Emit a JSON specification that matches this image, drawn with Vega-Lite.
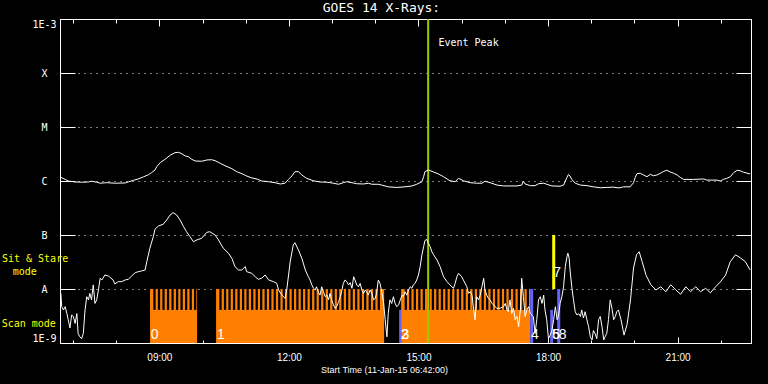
{
"$schema":"https://vega.github.io/schema/vega-lite/v6.json",
"width":691,"height":324,"autosize":"none",
"padding":{"left":60,"top":19,"right":17,"bottom":41},
"background":"black",
"title":{"text":"GOES 14 X-Rays:","color":"white","font":"DejaVu Sans Mono","fontSize":13,"fontWeight":"normal","anchor":"middle","dx":-24,"offset":3},
"config":{"view":{"stroke":null},
"axis":{"domainColor":"white","tickColor":"white","labelColor":"white","titleColor":"white","labelFont":"DejaVu Sans Mono","titleFont":"Liberation Sans","labelFontSize":10,"titleFontSize":9,"titleFontWeight":"normal","grid":false,"zindex":1,"domainWidth":1,"tickWidth":1}},
"resolve":{"axis":{"x":"independent","y":"independent"}},
"datasets":{
"seg":[{"h0":8.785,"h1":9.874},{"h0":10.314,"h1":14.205},{"h0":14.599,"h1":17.588}],
"gaps":[{"h0":8.861},{"h0":8.966},{"h0":9.070},{"h0":9.175},{"h0":9.280},{"h0":9.385},{"h0":9.489},{"h0":9.594},{"h0":9.699},{"h0":9.803},
{"h0":10.390},{"h0":10.495},{"h0":10.599},{"h0":10.704},{"h0":10.809},{"h0":10.914},{"h0":11.018},{"h0":11.123},{"h0":11.228},{"h0":11.332},{"h0":11.437},{"h0":11.542},{"h0":11.646},{"h0":11.751},{"h0":11.856},{"h0":11.961},{"h0":12.065},{"h0":12.170},{"h0":12.275},{"h0":12.379},{"h0":12.484},{"h0":12.589},{"h0":12.693},{"h0":12.798},{"h0":12.903},{"h0":13.008},{"h0":13.112},{"h0":13.217},{"h0":13.322},{"h0":13.426},{"h0":13.531},{"h0":13.636},{"h0":13.740},{"h0":13.845},{"h0":13.950},{"h0":14.055},
{"h0":14.680},{"h0":14.785},{"h0":14.889},{"h0":14.994},{"h0":15.099},{"h0":15.204},{"h0":15.308},{"h0":15.413},{"h0":15.518},{"h0":15.622},{"h0":15.727},{"h0":15.832},{"h0":15.936},{"h0":16.041},{"h0":16.146},{"h0":16.251},{"h0":16.355},{"h0":16.460},{"h0":16.565},{"h0":16.669},{"h0":16.774},{"h0":16.879},{"h0":16.983},{"h0":17.088},{"h0":17.193},{"h0":17.298},{"h0":17.402},{"h0":17.507}],
"modes":[{"h0":14.553,"h1":14.599,"lo":1e-9,"hi":4.1e-9,"mode":"other"},{"h0":17.588,"h1":17.657,"lo":1e-9,"hi":1e-8,"mode":"other"},{"h0":18.051,"h1":18.115,"lo":1e-9,"hi":4.1e-9,"mode":"other"},{"h0":18.213,"h1":18.283,"lo":1e-9,"hi":1e-8,"mode":"other"},{"h0":18.097,"h1":18.167,"lo":1e-8,"hi":1e-7,"mode":"stare"}],
"nums":[{"h":8.80,"f":1.19e-9,"t":"0"},{"h":10.337,"f":1.19e-9,"t":"1"},{"h":14.592,"f":1.19e-9,"t":"2"},{"h":14.61,"f":1.19e-9,"t":"3"},{"h":17.604,"f":1.19e-9,"t":"4"},{"h":18.09,"f":1.19e-9,"t":"5"},{"h":18.10,"f":1.19e-9,"t":"6"},{"h":18.12,"f":1.67e-8,"t":"7"},{"h":18.25,"f":1.19e-9,"t":"8"}],
"side":[{"h":5.356,"f":3.59e-8,"t":"Sit & Stare"},{"h":5.604,"f":2.09e-8,"t":"mode"},{"h":5.349,"f":2.25e-9,"t":"Scan mode"}],
"peak":[{"h":15.225,"f":3.55e-4,"t":"Event Peak","ht":15.463}],
"long":[{"h":6.72,"f":1.17e-6},{"h":6.82,"f":1.07e-6},{"h":6.89,"f":1.0e-6},{"h":7.05,"f":9.6e-7},{"h":7.20,"f":9.5e-7},{"h":7.36,"f":9.6e-7},{"h":7.43,"f":9.9e-7},{"h":7.55,"f":9.5e-7},{"h":7.63,"f":9.1e-7},{"h":7.78,"f":9.3e-7},{"h":7.97,"f":9.1e-7},{"h":8.21,"f":9.2e-7},{"h":8.28,"f":9.6e-7},{"h":8.40,"f":1.03e-6},{"h":8.51,"f":1.09e-6},{"h":8.63,"f":1.19e-6},{"h":8.75,"f":1.31e-6},{"h":8.82,"f":1.43e-6},{"h":8.90,"f":1.60e-6},{"h":8.94,"f":1.84e-6},{"h":9.02,"f":2.18e-6},{"h":9.13,"f":2.52e-6},{"h":9.25,"f":2.99e-6},{"h":9.36,"f":3.34e-6},{"h":9.44,"f":3.40e-6},{"h":9.50,"f":3.26e-6},{"h":9.60,"f":2.91e-6},{"h":9.67,"f":2.82e-6},{"h":9.75,"f":2.52e-6},{"h":9.83,"f":2.35e-6},{"h":9.98,"f":2.32e-6},{"h":10.10,"f":2.45e-6},{"h":10.21,"f":2.48e-6},{"h":10.29,"f":2.38e-6},{"h":10.41,"f":2.13e-6},{"h":10.52,"f":1.92e-6},{"h":10.68,"f":1.69e-6},{"h":10.79,"f":1.49e-6},{"h":10.91,"f":1.37e-6},{"h":11.02,"f":1.24e-6},{"h":11.14,"f":1.14e-6},{"h":11.26,"f":1.09e-6},{"h":11.37,"f":1.0e-6},{"h":11.53,"f":9.7e-7},{"h":11.68,"f":9.3e-7},{"h":11.80,"f":8.8e-7},{"h":11.91,"f":9.1e-7},{"h":11.99,"f":1.07e-6},{"h":12.07,"f":1.24e-6},{"h":12.14,"f":1.49e-6},{"h":12.22,"f":1.49e-6},{"h":12.30,"f":1.29e-6},{"h":12.41,"f":1.12e-6},{"h":12.57,"f":1.01e-6},{"h":12.72,"f":9.6e-7},{"h":12.88,"f":9.5e-7},{"h":13.03,"f":9.1e-7},{"h":13.15,"f":8.7e-7},{"h":13.26,"f":9.3e-7},{"h":13.34,"f":9.7e-7},{"h":13.46,"f":9.3e-7},{"h":13.57,"f":8.9e-7},{"h":13.73,"f":8.8e-7},{"h":13.84,"f":9.1e-7},{"h":13.92,"f":8.7e-7},{"h":14.07,"f":8.7e-7},{"h":14.15,"f":8.4e-7},{"h":14.30,"f":7.8e-7},{"h":14.50,"f":7.6e-7},{"h":14.69,"f":7.8e-7},{"h":14.85,"f":8.1e-7},{"h":14.96,"f":8.7e-7},{"h":15.08,"f":9.7e-7},{"h":15.12,"f":1.2e-6},{"h":15.15,"f":1.49e-6},{"h":15.23,"f":1.6e-6},{"h":15.35,"f":1.47e-6},{"h":15.46,"f":1.35e-6},{"h":15.58,"f":1.2e-6},{"h":15.73,"f":1.01e-6},{"h":15.85,"f":9.7e-7},{"h":15.93,"f":1.12e-6},{"h":16.04,"f":1.01e-6},{"h":16.20,"f":9.3e-7},{"h":16.35,"f":9.1e-7},{"h":16.47,"f":9.1e-7},{"h":16.54,"f":9.9e-7},{"h":16.66,"f":9.3e-7},{"h":16.82,"f":8.4e-7},{"h":16.97,"f":8.1e-7},{"h":17.12,"f":8.1e-7},{"h":17.28,"f":8.1e-7},{"h":17.39,"f":8.4e-7},{"h":17.43,"f":9.9e-7},{"h":17.47,"f":8.8e-7},{"h":17.59,"f":8.2e-7},{"h":17.70,"f":8.2e-7},{"h":17.78,"f":8.9e-7},{"h":17.90,"f":9.1e-7},{"h":17.97,"f":8.7e-7},{"h":18.09,"f":8.1e-7},{"h":18.28,"f":8.0e-7},{"h":18.36,"f":8.4e-7},{"h":18.44,"f":1.17e-6},{"h":18.47,"f":1.31e-6},{"h":18.51,"f":1.24e-6},{"h":18.55,"f":1.07e-6},{"h":18.63,"f":9.1e-7},{"h":18.75,"f":8.4e-7},{"h":18.90,"f":8.2e-7},{"h":19.05,"f":7.8e-7},{"h":19.21,"f":7.5e-7},{"h":19.36,"f":7.6e-7},{"h":19.52,"f":7.7e-7},{"h":19.60,"f":7.5e-7},{"h":19.67,"f":7.5e-7},{"h":19.75,"f":7.8e-7},{"h":19.90,"f":7.8e-7},{"h":19.98,"f":9.3e-7},{"h":20.02,"f":1.17e-6},{"h":20.06,"f":1.37e-6},{"h":20.14,"f":1.39e-6},{"h":20.21,"f":1.29e-6},{"h":20.29,"f":1.2e-6},{"h":20.37,"f":1.33e-6},{"h":20.44,"f":1.25e-6},{"h":20.52,"f":1.29e-6},{"h":20.60,"f":1.39e-6},{"h":20.68,"f":1.51e-6},{"h":20.75,"f":1.58e-6},{"h":20.83,"f":1.47e-6},{"h":20.91,"f":1.39e-6},{"h":20.99,"f":1.29e-6},{"h":21.06,"f":1.17e-6},{"h":21.14,"f":1.07e-6},{"h":21.37,"f":1.07e-6},{"h":21.60,"f":1.09e-6},{"h":21.68,"f":1.04e-6},{"h":21.91,"f":1.04e-6},{"h":21.99,"f":1.0e-6},{"h":22.06,"f":1.07e-6},{"h":22.14,"f":1.12e-6},{"h":22.22,"f":1.2e-6},{"h":22.30,"f":1.43e-6},{"h":22.38,"f":1.58e-6},{"h":22.45,"f":1.55e-6},{"h":22.53,"f":1.45e-6},{"h":22.68,"f":1.35e-6}],
"short":[{"h":6.72,"f":8.3e-9},{"h":6.74,"f":4.7e-9},{"h":6.78,"f":4.1e-9},{"h":6.82,"f":4.7e-9},{"h":6.86,"f":3.5e-9},{"h":6.89,"f":2.7e-9},{"h":6.93,"f":1.9e-9},{"h":6.97,"f":3.3e-9},{"h":7.01,"f":3.1e-9},{"h":7.05,"f":2.3e-9},{"h":7.09,"f":3.5e-9},{"h":7.12,"f":1.5e-9},{"h":7.16,"f":1.3e-9},{"h":7.20,"f":1.2e-9},{"h":7.24,"f":1.5e-9},{"h":7.28,"f":4.1e-9},{"h":7.32,"f":7.2e-9},{"h":7.36,"f":6.3e-9},{"h":7.39,"f":8.3e-9},{"h":7.43,"f":6.3e-9},{"h":7.47,"f":1.19e-8},{"h":7.51,"f":5.4e-9},{"h":7.55,"f":6.3e-9},{"h":7.59,"f":9.6e-9},{"h":7.63,"f":1.58e-8},{"h":7.67,"f":1.47e-8},{"h":7.74,"f":1.82e-8},{"h":7.82,"f":1.74e-8},{"h":7.93,"f":1.47e-8},{"h":7.97,"f":1.24e-8},{"h":8.05,"f":1.37e-8},{"h":8.13,"f":1.37e-8},{"h":8.21,"f":1.47e-8},{"h":8.28,"f":1.51e-8},{"h":8.36,"f":1.74e-8},{"h":8.44,"f":2.0e-8},{"h":8.51,"f":2.09e-8},{"h":8.59,"f":2.16e-8},{"h":8.67,"f":2.25e-8},{"h":8.71,"f":3.21e-8},{"h":8.78,"f":5.67e-8},{"h":8.86,"f":9.3e-8},{"h":8.90,"f":1.28e-7},{"h":8.98,"f":1.47e-7},{"h":9.09,"f":1.58e-7},{"h":9.17,"f":1.9e-7},{"h":9.25,"f":2.35e-7},{"h":9.32,"f":2.59e-7},{"h":9.40,"f":2.35e-7},{"h":9.48,"f":1.9e-7},{"h":9.56,"f":1.43e-7},{"h":9.63,"f":1.15e-7},{"h":9.71,"f":9.3e-8},{"h":9.79,"f":7.5e-8},{"h":9.87,"f":8.1e-8},{"h":9.98,"f":8.7e-8},{"h":10.10,"f":1.12e-7},{"h":10.17,"f":1.15e-7},{"h":10.29,"f":1.0e-7},{"h":10.37,"f":8.1e-8},{"h":10.48,"f":5.7e-8},{"h":10.60,"f":4.6e-8},{"h":10.68,"f":3.7e-8},{"h":10.75,"f":2.6e-8},{"h":10.83,"f":2.25e-8},{"h":10.91,"f":2.25e-8},{"h":10.99,"f":2.6e-8},{"h":11.02,"f":2.1e-8},{"h":11.14,"f":1.95e-8},{"h":11.22,"f":1.69e-8},{"h":11.29,"f":1.51e-8},{"h":11.37,"f":1.58e-8},{"h":11.45,"f":1.82e-8},{"h":11.53,"f":1.47e-8},{"h":11.64,"f":1.37e-8},{"h":11.72,"f":1.27e-8},{"h":11.76,"f":9.6e-9},{"h":11.84,"f":7.7e-9},{"h":11.91,"f":6.7e-9},{"h":11.95,"f":9.6e-9},{"h":12.03,"f":3.2e-8},{"h":12.10,"f":6.5e-8},{"h":12.14,"f":7.2e-8},{"h":12.22,"f":5.3e-8},{"h":12.30,"f":3.7e-8},{"h":12.38,"f":2.25e-8},{"h":12.45,"f":1.69e-8},{"h":12.49,"f":1.47e-8},{"h":12.53,"f":1.19e-8},{"h":12.57,"f":1.03e-8},{"h":12.61,"f":9.6e-9},{"h":12.64,"f":1.1e-8},{"h":12.68,"f":8.9e-9},{"h":12.72,"f":7.7e-9},{"h":12.76,"f":1.1e-8},{"h":12.80,"f":8.9e-9},{"h":12.84,"f":7.2e-9},{"h":12.88,"f":7.7e-9},{"h":12.92,"f":6.3e-9},{"h":12.95,"f":8.3e-9},{"h":12.99,"f":6.3e-9},{"h":13.03,"f":5.1e-9},{"h":13.07,"f":4.4e-9},{"h":13.11,"f":4.8e-9},{"h":13.15,"f":5.8e-9},{"h":13.19,"f":7.2e-9},{"h":13.23,"f":9.6e-9},{"h":13.26,"f":1.27e-8},{"h":13.30,"f":1.47e-8},{"h":13.34,"f":1.37e-8},{"h":13.38,"f":1.19e-8},{"h":13.42,"f":1.31e-8},{"h":13.46,"f":1.03e-8},{"h":13.50,"f":1.69e-8},{"h":13.53,"f":1.47e-8},{"h":13.57,"f":1.19e-8},{"h":13.61,"f":1.1e-8},{"h":13.65,"f":1.27e-8},{"h":13.69,"f":9.6e-9},{"h":13.73,"f":8.3e-9},{"h":13.77,"f":9.6e-9},{"h":13.80,"f":8.9e-9},{"h":13.84,"f":7.7e-9},{"h":13.88,"f":9.6e-9},{"h":13.92,"f":8.3e-9},{"h":13.96,"f":6.3e-9},{"h":14.00,"f":6.7e-9},{"h":14.03,"f":8.3e-9},{"h":14.07,"f":1.47e-8},{"h":14.11,"f":1.27e-8},{"h":14.15,"f":8.9e-9},{"h":14.19,"f":5.8e-9},{"h":14.23,"f":2.7e-9},{"h":14.27,"f":1.3e-9},{"h":14.30,"f":3.5e-9},{"h":14.34,"f":6.3e-9},{"h":14.38,"f":5.4e-9},{"h":14.42,"f":7.2e-9},{"h":14.46,"f":5.4e-9},{"h":14.50,"f":4.7e-9},{"h":14.54,"f":5.1e-9},{"h":14.58,"f":6.3e-9},{"h":14.62,"f":7.7e-9},{"h":14.65,"f":7.2e-9},{"h":14.69,"f":8.9e-9},{"h":14.73,"f":7.7e-9},{"h":14.77,"f":9.6e-9},{"h":14.81,"f":1.1e-8},{"h":14.85,"f":1.03e-8},{"h":14.88,"f":1.19e-8},{"h":14.92,"f":1.27e-8},{"h":14.96,"f":1.47e-8},{"h":15.00,"f":1.82e-8},{"h":15.04,"f":2.6e-8},{"h":15.08,"f":4.3e-8},{"h":15.12,"f":6.1e-8},{"h":15.15,"f":7.9e-8},{"h":15.19,"f":8.3e-8},{"h":15.23,"f":7.0e-8},{"h":15.27,"f":6.1e-8},{"h":15.31,"f":4.9e-8},{"h":15.35,"f":4.3e-8},{"h":15.43,"f":3.45e-8},{"h":15.50,"f":2.6e-8},{"h":15.58,"f":1.69e-8},{"h":15.66,"f":1.37e-8},{"h":15.73,"f":1.19e-8},{"h":15.81,"f":1.03e-8},{"h":15.85,"f":1.27e-8},{"h":15.89,"f":1.69e-8},{"h":15.93,"f":1.95e-8},{"h":16.00,"f":1.69e-8},{"h":16.04,"f":1.47e-8},{"h":16.12,"f":1.1e-8},{"h":16.16,"f":8.3e-9},{"h":16.20,"f":8.9e-9},{"h":16.24,"f":7.7e-9},{"h":16.27,"f":4.7e-9},{"h":16.31,"f":2.7e-9},{"h":16.35,"f":7.2e-9},{"h":16.39,"f":6.3e-9},{"h":16.43,"f":7.7e-9},{"h":16.47,"f":1.1e-8},{"h":16.51,"f":1.58e-8},{"h":16.54,"f":9.6e-9},{"h":16.58,"f":7.7e-9},{"h":16.62,"f":6.7e-9},{"h":16.66,"f":6.3e-9},{"h":16.70,"f":5.4e-9},{"h":16.74,"f":5.1e-9},{"h":16.81,"f":4.4e-9},{"h":16.89,"f":4.4e-9},{"h":16.97,"f":4.7e-9},{"h":17.01,"f":5.4e-9},{"h":17.05,"f":4.1e-9},{"h":17.08,"f":3.8e-9},{"h":17.12,"f":6.3e-9},{"h":17.16,"f":3.5e-9},{"h":17.20,"f":4.4e-9},{"h":17.24,"f":2.7e-9},{"h":17.28,"f":3.1e-9},{"h":17.32,"f":2.0e-9},{"h":17.36,"f":4.1e-9},{"h":17.39,"f":1.58e-8},{"h":17.43,"f":7.2e-9},{"h":17.47,"f":3.1e-9},{"h":17.51,"f":4.1e-9},{"h":17.55,"f":4.7e-9},{"h":17.59,"f":3.5e-9},{"h":17.66,"f":3.1e-9},{"h":17.70,"f":1.5e-9},{"h":17.74,"f":2.7e-9},{"h":17.78,"f":6.3e-9},{"h":17.82,"f":7.2e-9},{"h":17.86,"f":5.4e-9},{"h":17.90,"f":7.7e-9},{"h":17.93,"f":4.1e-9},{"h":17.97,"f":2.7e-9},{"h":18.01,"f":1.2e-9},{"h":18.05,"f":1.4e-9},{"h":18.09,"f":1.7e-9},{"h":18.13,"f":2.7e-9},{"h":18.17,"f":4.7e-9},{"h":18.21,"f":2.7e-9},{"h":18.24,"f":3.1e-9},{"h":18.28,"f":5.4e-9},{"h":18.32,"f":7.2e-9},{"h":18.36,"f":1.1e-8},{"h":18.40,"f":2.6e-8},{"h":18.44,"f":4.0e-8},{"h":18.46,"f":4.6e-8},{"h":18.49,"f":3.7e-8},{"h":18.51,"f":2.25e-8},{"h":18.55,"f":1.1e-8},{"h":18.59,"f":6.3e-9},{"h":18.63,"f":3.8e-9},{"h":18.67,"f":3.3e-9},{"h":18.71,"f":3.5e-9},{"h":18.75,"f":3.1e-9},{"h":18.78,"f":4.1e-9},{"h":18.82,"f":2.9e-9},{"h":18.86,"f":3.8e-9},{"h":18.90,"f":2.7e-9},{"h":18.94,"f":2.0e-9},{"h":18.98,"f":1.3e-9},{"h":19.02,"f":1.14e-9},{"h":19.05,"f":1.7e-9},{"h":19.09,"f":1.5e-9},{"h":19.13,"f":1.2e-9},{"h":19.17,"f":2.7e-9},{"h":19.21,"f":3.1e-9},{"h":19.25,"f":2.0e-9},{"h":19.29,"f":1.14e-9},{"h":19.32,"f":1.3e-9},{"h":19.36,"f":1.5e-9},{"h":19.40,"f":2.7e-9},{"h":19.44,"f":6.3e-9},{"h":19.48,"f":4.4e-9},{"h":19.52,"f":2.7e-9},{"h":19.56,"f":3.1e-9},{"h":19.59,"f":3.8e-9},{"h":19.63,"f":4.1e-9},{"h":19.69,"f":2.7e-9},{"h":19.76,"f":1.4e-9},{"h":19.83,"f":2.2e-9},{"h":19.91,"f":6.3e-9},{"h":19.98,"f":2.45e-8},{"h":20.05,"f":4.3e-8},{"h":20.11,"f":4.9e-8},{"h":20.18,"f":3.2e-8},{"h":20.27,"f":1.8e-8},{"h":20.38,"f":1.2e-8},{"h":20.50,"f":9.6e-9},{"h":20.61,"f":1.1e-8},{"h":20.73,"f":8.9e-9},{"h":20.84,"f":1.2e-8},{"h":20.96,"f":9.6e-9},{"h":21.07,"f":8.0e-9},{"h":21.19,"f":1.1e-8},{"h":21.30,"f":8.9e-9},{"h":21.42,"f":1.1e-8},{"h":21.53,"f":8.9e-9},{"h":21.65,"f":1.03e-8},{"h":21.76,"f":8.5e-9},{"h":21.88,"f":1.1e-8},{"h":21.99,"f":1.35e-8},{"h":22.11,"f":1.8e-8},{"h":22.22,"f":3.2e-8},{"h":22.34,"f":4.3e-8},{"h":22.45,"f":3.8e-8},{"h":22.57,"f":3.2e-8},{"h":22.68,"f":2.25e-8}]
},
"layer":[
{"data":{"name":"seg"},"mark":{"type":"rect","color":"#ff8000"},
"encoding":{
"x":{"field":"h0","type":"quantitative","scale":{"domain":[6.7,22.7],"nice":false,"zero":false},
"axis":{"orient":"bottom","values":[7,8,9,10,11,12,13,14,15,16,17,18,19,20,21,22],"labelExpr":"datum.value % 3 == 0 ? (datum.value < 10 ? '0' : '') + datum.value + ':00' : ''","labelFont":"Liberation Sans","labelFontSize":10,"tickSize":{"condition":{"test":"datum.value % 3 == 0","value":-6},"value":-3},"labelPadding":15,"title":"Start Time (11-Jan-15 06:42:00)","titleX":324,"titleY":26,"titleBaseline":"middle","titleAlign":"center","titleAnchor":"start"}},
"x2":{"field":"h1"},
"y":{"datum":1e-9,"type":"quantitative","scale":{"type":"log","domain":[1e-9,1e-3],"nice":false},
"axis":{"orient":"left","values":[1e-9,1e-8,1e-7,1e-6,1e-5,1e-4,1e-3],"labelExpr":"datum.value < 5e-9 ? '1E-9' : datum.value < 5e-8 ? 'A' : datum.value < 5e-7 ? 'B' : datum.value < 5e-6 ? 'C' : datum.value < 5e-5 ? 'M' : datum.value < 5e-4 ? 'X' : '1E-3'","tickSize":-15,"labelPadding":31,"labelAlign":"center","labelFlush":true,"grid":true,"gridColor":"white","gridDash":[1,5],"gridWidth":1,"title":null}},
"y2":{"datum":1e-8}}},
{"data":{"name":"gaps"},"mark":{"type":"rect","color":"black","width":2.3,"align":"left"},
"encoding":{
"x":{"field":"h0","type":"quantitative","axis":{"orient":"top","values":[7,8,9,10,11,12,13,14,15,16,17,18,19,20,21,22],"labels":false,"tickSize":{"condition":{"test":"datum.value % 3 == 0","value":-7},"value":-4},"title":null}},
"y":{"datum":4.1e-9,"type":"quantitative","axis":{"orient":"right","values":[1e-9,1e-8,1e-7,1e-6,1e-5,1e-4,1e-3],"labels":false,"tickSize":-15,"title":null}},
"y2":{"datum":1e-8}}},
{"data":{"name":"modes"},"mark":{"type":"rect"},
"encoding":{
"x":{"field":"h0","type":"quantitative","axis":null},"x2":{"field":"h1"},
"y":{"field":"lo","type":"quantitative","axis":null},"y2":{"field":"hi"},
"color":{"field":"mode","type":"nominal","scale":{"domain":["other","stare"],"range":["#6464ff","#ffff00"]},"legend":null}}},
{"data":{"name":"peak"},"mark":{"type":"rule","color":"#9ccc00","strokeWidth":2},
"encoding":{"x":{"field":"h","type":"quantitative","axis":null}}},
{"data":{"name":"long"},"mark":{"type":"line","color":"white","strokeWidth":1},
"encoding":{"x":{"field":"h","type":"quantitative","axis":null},"y":{"field":"f","type":"quantitative","axis":null}}},
{"data":{"name":"short"},"mark":{"type":"line","color":"white","strokeWidth":1},
"encoding":{"x":{"field":"h","type":"quantitative","axis":null},"y":{"field":"f","type":"quantitative","axis":null}}},
{"data":{"name":"nums"},"mark":{"type":"text","color":"white","font":"Liberation Sans","fontSize":14,"align":"left","baseline":"alphabetic"},
"encoding":{"x":{"field":"h","type":"quantitative","axis":null},"y":{"field":"f","type":"quantitative","axis":null},"text":{"field":"t"}}},
{"data":{"name":"side"},"mark":{"type":"text","color":"#ffff00","font":"DejaVu Sans Mono","fontSize":10,"align":"left","baseline":"middle"},
"encoding":{"x":{"field":"h","type":"quantitative","axis":null},"y":{"field":"f","type":"quantitative","axis":null},"text":{"field":"t"}}},
{"data":{"name":"peak"},"mark":{"type":"text","color":"white","font":"DejaVu Sans Mono","fontSize":10,"align":"left","baseline":"middle"},
"encoding":{"x":{"field":"ht","type":"quantitative","axis":null},"y":{"field":"f","type":"quantitative","axis":null},"text":{"field":"t"}}}
]
}
